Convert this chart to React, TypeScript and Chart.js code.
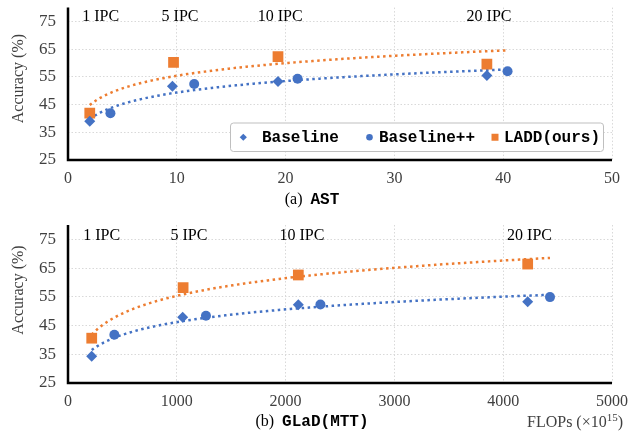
import { useEffect, useRef } from "react";
import { Chart, registerables } from "chart.js";

Chart.register(...registerables);

// ---------------- data ----------------
const Y_TICKS = [25, 35, 45, 55, 65, 75];
const AST_X_TICKS = [0, 10, 20, 30, 40, 50];
const GLAD_X_TICKS = [0, 1000, 2000, 3000, 4000, 5000];
const IPC_LABELS = ["1 IPC", "5 IPC", "10 IPC", "20 IPC"];
const SERIES_NAMES = ["Baseline", "Baseline++", "LADD(ours)"];

// (a) AST
const AST_BASELINE_X = [2.0, 9.6, 19.3, 38.5];
const AST_BASELINE_Y = [39.0, 51.6, 53.3, 55.5];
const AST_BASELINEPP_X = [3.9, 11.6, 21.1, 40.4];
const AST_BASELINEPP_Y = [41.9, 52.4, 54.3, 57.0];
const AST_LADD_X = [2.0, 9.7, 19.3, 38.5];
const AST_LADD_Y = [41.9, 60.2, 62.3, 59.6];
const AST_IPC_X = [3.0, 10.3, 19.5, 38.7];

// (b) GLaD (MTT)
const GLAD_BASELINE_X = [218, 1054, 2117, 4225];
const GLAD_BASELINE_Y = [34.3, 47.9, 52.2, 53.3];
const GLAD_BASELINEPP_X = [426, 1268, 2320, 4430];
const GLAD_BASELINEPP_Y = [41.8, 48.4, 52.3, 54.9];
const GLAD_LADD_X = [218, 1058, 2117, 4225];
const GLAD_LADD_Y = [40.6, 58.2, 62.6, 66.4];
const GLAD_IPC_X = [310, 1112, 2150, 4242];

// ---------------- styles ----------------
const BLUE = "#4472C4";
const ORANGE = "#ED7D31";
const SERIF = "'Liberation Serif', 'Times New Roman', serif";
const MONO = "'Liberation Mono', 'Courier New', monospace";
const TICK_COLOR = "#404040";
const GRID_COLOR = "#d9d9d9";
const W = 637;

Chart.defaults.font.family = SERIF;

type PanelSpec = {
  key: string;
  top: number;
  height: number;
  padTop: number;
  xMax: number;
  xTicks: number[];
  baseline: [number[], number[]];
  baselinePP: [number[], number[]];
  ladd: [number[], number[]];
  ipcX: number[];
  capPrefix: string;
  capMono: string;
  capY: number;
  titleOffset: number;
  legend: boolean;
  flops: boolean;
};

const PANELS: PanelSpec[] = [
  {
    key: "a",
    top: 0,
    height: 210,
    padTop: 3,
    xMax: 50,
    xTicks: AST_X_TICKS,
    baseline: [AST_BASELINE_X, AST_BASELINE_Y],
    baselinePP: [AST_BASELINEPP_X, AST_BASELINEPP_Y],
    ladd: [AST_LADD_X, AST_LADD_Y],
    ipcX: AST_IPC_X,
    capPrefix: "(a)",
    capMono: "AST",
    capY: 200,
    titleOffset: 71,
    legend: true,
    flops: false,
  },
  {
    key: "b",
    top: 210,
    height: 223,
    padTop: 15,
    xMax: 5000,
    xTicks: GLAD_X_TICKS,
    baseline: [GLAD_BASELINE_X, GLAD_BASELINE_Y],
    baselinePP: [GLAD_BASELINEPP_X, GLAD_BASELINEPP_Y],
    ladd: [GLAD_LADD_X, GLAD_LADD_Y],
    ipcX: GLAD_IPC_X,
    capPrefix: "(b)",
    capMono: "GLaD(MTT)",
    capY: 212,
    titleOffset: 65,
    legend: false,
    flops: true,
  },
];

const toPoints = (xs: number[], ys: number[]) => xs.map((x, i) => ({ x, y: ys[i] }));

// least-squares logarithmic trendline fitted to the data (as in the source chart)
function logFit(xs: number[], ys: number[]) {
  const n = xs.length;
  const lx = xs.map((v) => Math.log(v));
  const mx = lx.reduce((s, v) => s + v, 0) / n;
  const my = ys.reduce((s, v) => s + v, 0) / n;
  let sxy = 0;
  let sxx = 0;
  for (let i = 0; i < n; i++) {
    sxy += (lx[i] - mx) * (ys[i] - my);
    sxx += (lx[i] - mx) * (lx[i] - mx);
  }
  const b = sxy / sxx;
  const a = my - b * mx;
  return (x: number) => a + b * Math.log(x);
}

function trendPoints(xs: number[], ys: number[], x0: number, x1: number) {
  const f = logFit(xs, ys);
  const pts: { x: number; y: number }[] = [];
  const steps = 120;
  for (let i = 0; i <= steps; i++) {
    const x = x0 + ((x1 - x0) * i) / steps;
    pts.push({ x, y: f(x) });
  }
  return pts;
}

function drawMarker(ctx: CanvasRenderingContext2D, kind: string, x: number, y: number, s: number, color: string) {
  ctx.fillStyle = color;
  ctx.beginPath();
  if (kind === "diamond") {
    ctx.moveTo(x - s, y);
    ctx.lineTo(x, y - s);
    ctx.lineTo(x + s, y);
    ctx.lineTo(x, y + s);
    ctx.closePath();
  } else if (kind === "circle") {
    ctx.arc(x, y, s, 0, Math.PI * 2);
  } else {
    ctx.rect(x - s, y - s, 2 * s, 2 * s);
  }
  ctx.fill();
}

function overlayPlugin(p: PanelSpec) {
  return {
    id: "overlay" + p.key,
    afterDraw(chart: any) {
      const ctx: CanvasRenderingContext2D = chart.ctx;
      const a = chart.chartArea;
      const xs = chart.scales.x;
      ctx.save();

      // axis lines
      ctx.setLineDash([]);
      ctx.strokeStyle = "#000";
      ctx.lineWidth = 2.5;
      ctx.beginPath();
      ctx.moveTo(a.left, a.top);
      ctx.lineTo(a.left, a.bottom);
      ctx.lineTo(a.right, a.bottom);
      ctx.stroke();

      // IPC labels
      ctx.fillStyle = "#000";
      ctx.font = `16px ${SERIF}`;
      ctx.textAlign = "center";
      ctx.textBaseline = "middle";
      p.ipcX.forEach((x, i) => {
        ctx.fillText(IPC_LABELS[i], xs.getPixelForValue(x), a.top + (p.key === "a" ? 9 : 11));
      });

      // y title
      ctx.save();
      ctx.translate(19, a.top + p.titleOffset);
      ctx.rotate(-Math.PI / 2);
      ctx.fillStyle = TICK_COLOR;
      ctx.font = `16px ${SERIF}`;
      ctx.textAlign = "center";
      ctx.textBaseline = "middle";
      ctx.fillText("Accuracy (%)", 0, 0);
      ctx.restore();

      // caption
      ctx.textAlign = "left";
      ctx.textBaseline = "middle";
      ctx.font = `16px ${SERIF}`;
      const w1 = ctx.measureText(p.capPrefix).width;
      ctx.font = `bold 16px ${MONO}`;
      const w2 = ctx.measureText(p.capMono).width;
      const gap = 8;
      const cx = 312 - (w1 + gap + w2) / 2;
      ctx.fillStyle = "#000";
      ctx.font = `16px ${SERIF}`;
      ctx.fillText(p.capPrefix, cx, p.capY);
      ctx.font = `bold 16px ${MONO}`;
      ctx.fillText(p.capMono, cx + w1 + gap, p.capY);

      // FLOPs label
      if (p.flops) {
        const fx = 527;
        const fy = p.capY + 1;
        ctx.fillStyle = TICK_COLOR;
        ctx.font = `16px ${SERIF}`;
        const t1 = "FLOPs (\u00d710";
        ctx.fillText(t1, fx, fy);
        const tw = ctx.measureText(t1).width;
        ctx.font = `11px ${SERIF}`;
        ctx.fillText("15", fx + tw, fy - 5);
        const sw = ctx.measureText("15").width;
        ctx.font = `16px ${SERIF}`;
        ctx.fillText(")", fx + tw + sw, fy);
      }

      // legend
      if (p.legend) {
        const bx = 230;
        const by = 122.5;
        const bw = 373;
        const bh = 28.5;
        ctx.fillStyle = "#fff";
        ctx.strokeStyle = "#bfbfbf";
        ctx.lineWidth = 1;
        ctx.beginPath();
        (ctx as any).roundRect(bx + 0.5, by + 0.5, bw, bh, 3);
        ctx.fill();
        ctx.stroke();
        const cy = by + bh / 2 + 0.5;
        const items = [
          { kind: "diamond", color: BLUE, mx: 13.3, tx: 32, s: 3.6 },
          { kind: "circle", color: BLUE, mx: 139.5, tx: 149, s: 3.3 },
          { kind: "square", color: ORANGE, mx: 265, tx: 274, s: 3.5 },
        ];
        ctx.font = `bold 16px ${MONO}`;
        ctx.textBaseline = "middle";
        items.forEach((it, i) => {
          drawMarker(ctx, it.kind, bx + it.mx, cy, it.s, it.color);
          ctx.fillStyle = "#000";
          ctx.fillText(SERIES_NAMES[i], bx + it.tx, cy + 1);
        });
      }
      ctx.restore();
    },
  };
}

function buildConfig(p: PanelSpec): any {
  const allX = [...p.baseline[0], ...p.baselinePP[0], ...p.ladd[0]];
  const x0 = Math.min(...allX);
  const x1 = Math.max(...allX);
  const blueTrend = trendPoints(
    [...p.baseline[0], ...p.baselinePP[0]],
    [...p.baseline[1], ...p.baselinePP[1]],
    x0,
    x1
  );
  const orangeTrend = trendPoints(p.ladd[0], p.ladd[1], x0, x1);
  const trendStyle = {
    showLine: true,
    pointRadius: 0,
    borderWidth: 2.5,
    borderDash: [2.5, 3.5],
    fill: false,
    tension: 0,
    order: 2,
  };
  return {
    type: "scatter",
    data: {
      datasets: [
        {
          label: SERIES_NAMES[0],
          data: toPoints(p.baseline[0], p.baseline[1]),
          pointStyle: "rectRot",
          pointRadius: 5.5,
          backgroundColor: BLUE,
          borderColor: BLUE,
          borderWidth: 0,
          order: 1,
        },
        {
          label: SERIES_NAMES[1],
          data: toPoints(p.baselinePP[0], p.baselinePP[1]),
          pointStyle: "circle",
          pointRadius: 5,
          backgroundColor: BLUE,
          borderColor: BLUE,
          borderWidth: 0,
          order: 1,
        },
        {
          label: SERIES_NAMES[2],
          data: toPoints(p.ladd[0], p.ladd[1]),
          pointStyle: "rect",
          pointRadius: 7.6,
          backgroundColor: ORANGE,
          borderColor: ORANGE,
          borderWidth: 0,
          order: 1,
        },
        { label: "trend-blue", data: blueTrend, borderColor: BLUE, backgroundColor: BLUE, ...trendStyle },
        { label: "trend-orange", data: orangeTrend, borderColor: ORANGE, backgroundColor: ORANGE, ...trendStyle },
      ],
    },
    options: {
      responsive: false,
      maintainAspectRatio: false,
      animation: false,
      events: [],
      layout: { padding: { left: 0, right: W - 612, top: p.padTop, bottom: 0 } },
      plugins: { legend: { display: false }, tooltip: { enabled: false } },
      scales: {
        x: {
          type: "linear",
          min: 0,
          max: p.xMax,
          afterBuildTicks: (s: any) => {
            s.ticks = p.xTicks.map((v) => ({ value: v }));
          },
          afterFit: (s: any) => {
            s.height = 50;
            s.paddingLeft = 0;
            s.paddingRight = 0;
          },
          ticks: {
            color: TICK_COLOR,
            font: { family: SERIF, size: 16 },
            padding: 9,
            maxRotation: 0,
            autoSkip: false,
            callback: (v: any) => String(v),
          },
          grid: { color: GRID_COLOR, lineWidth: 1, drawTicks: false },
          border: { display: false, dash: [1.5, 2] },
        },
        y: {
          type: "linear",
          min: 25,
          max: 80,
          afterBuildTicks: (s: any) => {
            s.ticks = Y_TICKS.map((v) => ({ value: v }));
          },
          afterFit: (s: any) => {
            s.width = 68;
            s.paddingTop = 0;
            s.paddingBottom = 0;
          },
          ticks: {
            color: TICK_COLOR,
            font: { family: SERIF, size: 17 },
            padding: 12,
            autoSkip: false,
            callback: (v: any) => String(v),
          },
          grid: { color: GRID_COLOR, lineWidth: 1, drawTicks: false },
          border: { display: false, dash: [1.5, 2] },
        },
      },
    },
    plugins: [overlayPlugin(p)],
  };
}

function ChartPanel({ panel }: { panel: PanelSpec }) {
  const ref = useRef<HTMLCanvasElement>(null);
  useEffect(() => {
    if (!ref.current) return;
    const chart = new Chart(ref.current, buildConfig(panel));
    return () => chart.destroy();
  }, [panel]);
  return (
    <canvas
      ref={ref}
      width={W}
      height={panel.height}
      style={{ position: "absolute", left: 0, top: panel.top, width: W, height: panel.height, display: "block" }}
    />
  );
}

export default function App() {
  return (
    <div style={{ position: "absolute", left: 0, top: 0, width: W, height: 433, background: "#fff", overflow: "hidden" }}>
      {PANELS.map((p) => (
        <ChartPanel key={p.key} panel={p} />
      ))}
    </div>
  );
}
